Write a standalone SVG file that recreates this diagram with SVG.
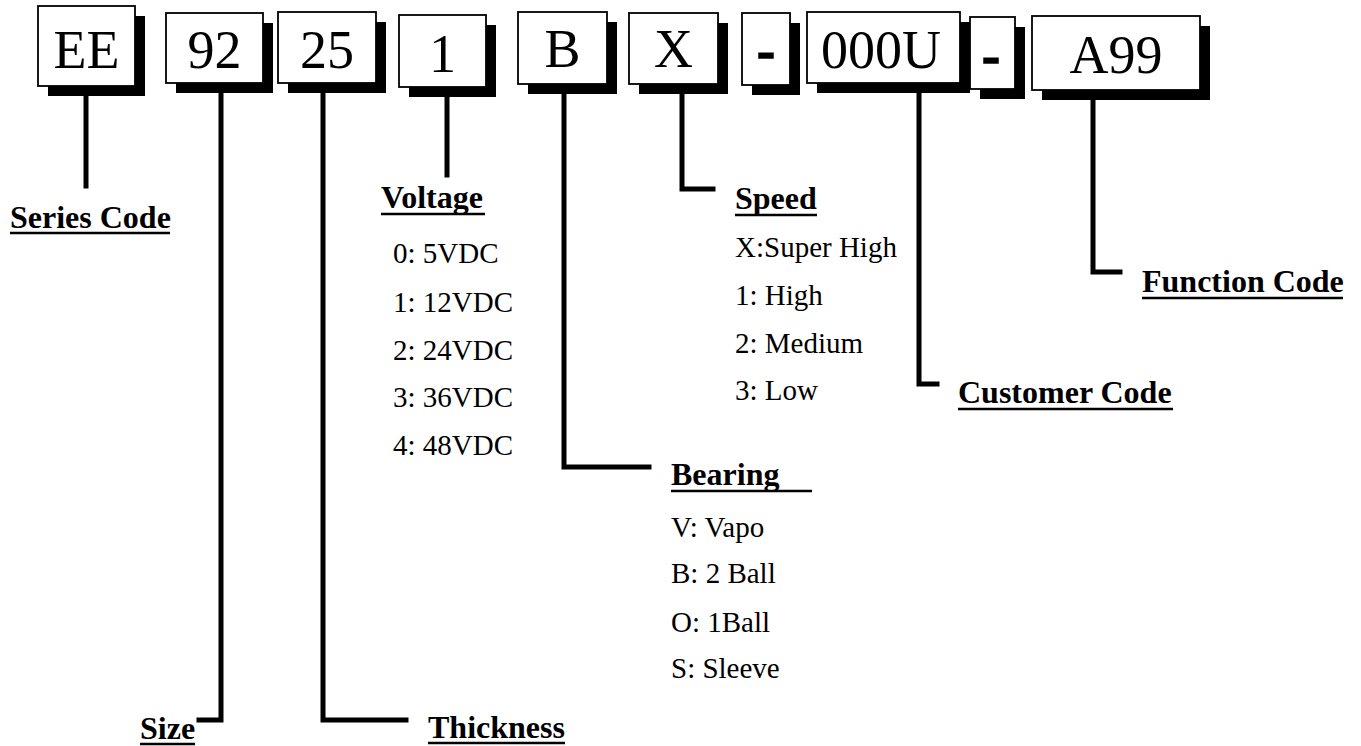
<svg xmlns="http://www.w3.org/2000/svg" width="1361" height="746" viewBox="0 0 1361 746">
<style>
.box{fill:#fff;stroke:#000;stroke-width:1.8}
.sh{fill:#000}
.bt{font-family:"Liberation Serif","Times New Roman",serif;font-size:54px;fill:#000;text-anchor:middle}
.dash{font-weight:bold;stroke:#000;stroke-width:1.5}
.hd{font-family:"Liberation Serif","Times New Roman",serif;font-size:32px;font-weight:bold;fill:#000}
.it{font-family:"Liberation Serif","Times New Roman",serif;font-size:29px;fill:#000}
.ul{stroke:#000;stroke-width:2.5}
.con path{fill:none;stroke:#000;stroke-width:5;stroke-linejoin:miter;stroke-linecap:square}
</style>
<rect width="1361" height="746" fill="#fff"/>
<g id="connectors" class="con">
<path d="M86 96V186"/>
<path d="M221 93V720H199"/>
<path d="M323 93V720H406"/>
<path d="M447 97V175"/>
<path d="M564 94V467H649"/>
<path d="M682 93V189H713"/>
<path d="M919 94V384H937"/>
<path d="M1093 98V272H1120"/>
</g>
<g id="box-ee"><rect class="sh" x="48" y="16" width="97" height="80"/><rect class="box" x="38" y="6" width="97" height="80"/><text class="bt" x="86.5" y="68">EE</text></g>
<g id="box-92"><rect class="sh" x="176" y="23" width="97" height="70"/><rect class="box" x="166" y="13" width="97" height="70"/><text class="bt" x="214.5" y="68">92</text></g>
<g id="box-25"><rect class="sh" x="288" y="22" width="98" height="71"/><rect class="box" x="278" y="12" width="98" height="71"/><text class="bt" x="327" y="68">25</text></g>
<g id="box-1"><rect class="sh" x="409" y="25" width="87" height="72"/><rect class="box" x="399" y="15" width="87" height="72"/><text class="bt" x="442.5" y="72">1</text></g>
<g id="box-b"><rect class="sh" x="528" y="22" width="89" height="72"/><rect class="box" x="518" y="12" width="89" height="72"/><text class="bt" x="562.5" y="67">B</text></g>
<g id="box-x"><rect class="sh" x="639" y="23" width="89" height="71"/><rect class="box" x="629" y="13" width="89" height="71"/><text class="bt" x="673.5" y="67">X</text></g>
<g id="box-dash1"><rect class="sh" x="752" y="23" width="48" height="72"/><rect class="box" x="742" y="13" width="48" height="72"/><text class="bt dash" x="766" y="69">-</text></g>
<g id="box-000u"><rect class="sh" x="817" y="22" width="153" height="71"/><rect class="box" x="807" y="12" width="153" height="71"/><text class="bt" x="881" y="68">000U</text></g>
<g id="box-dash2"><rect class="sh" x="980" y="27" width="45" height="72"/><rect class="box" x="970" y="17" width="45" height="72"/><text class="bt dash" x="991" y="74">-</text></g>
<g id="box-a99"><rect class="sh" x="1042" y="26" width="168" height="74"/><rect class="box" x="1032" y="16" width="168" height="74"/><text class="bt" x="1116" y="73">A99</text></g>
<g id="label-series"><text class="hd" x="10" y="228">Series Code</text><line class="ul" x1="10" y1="233" x2="170" y2="233"/></g>
<g id="label-size"><text class="hd" x="140" y="739">Size</text><line class="ul" x1="140" y1="744" x2="195" y2="744"/></g>
<g id="label-thickness"><text class="hd" x="428" y="738">Thickness</text><line class="ul" x1="428" y1="743" x2="565" y2="743"/></g>
<g id="label-voltage"><text class="hd" x="381" y="208">Voltage</text><line class="ul" x1="381" y1="214" x2="485" y2="214"/>
<text class="it" x="393" y="263">0: 5VDC</text>
<text class="it" x="393" y="312">1: 12VDC</text>
<text class="it" x="393" y="360">2: 24VDC</text>
<text class="it" x="393" y="407">3: 36VDC</text>
<text class="it" x="393" y="455">4: 48VDC</text></g>
<g id="label-bearing"><text class="hd" x="671" y="485">Bearing</text><line class="ul" x1="671" y1="491" x2="812" y2="491"/>
<text class="it" x="671" y="537">V: Vapo</text>
<text class="it" x="671" y="583">B: 2 Ball</text>
<text class="it" x="671" y="632">O: 1Ball</text>
<text class="it" x="671" y="678">S: Sleeve</text></g>
<g id="label-speed"><text class="hd" x="735" y="209">Speed</text><line class="ul" x1="735" y1="215" x2="817" y2="215"/>
<text class="it" x="735" y="257">X:Super High</text>
<text class="it" x="735" y="305">1: High</text>
<text class="it" x="735" y="353">2: Medium</text>
<text class="it" x="735" y="400">3: Low</text></g>
<g id="label-customer"><text class="hd" x="958" y="403">Customer Code</text><line class="ul" x1="958" y1="409" x2="1173" y2="409"/></g>
<g id="label-function"><text class="hd" x="1142" y="292">Function Code</text><line class="ul" x1="1142" y1="298" x2="1343" y2="298"/></g>
</svg>
